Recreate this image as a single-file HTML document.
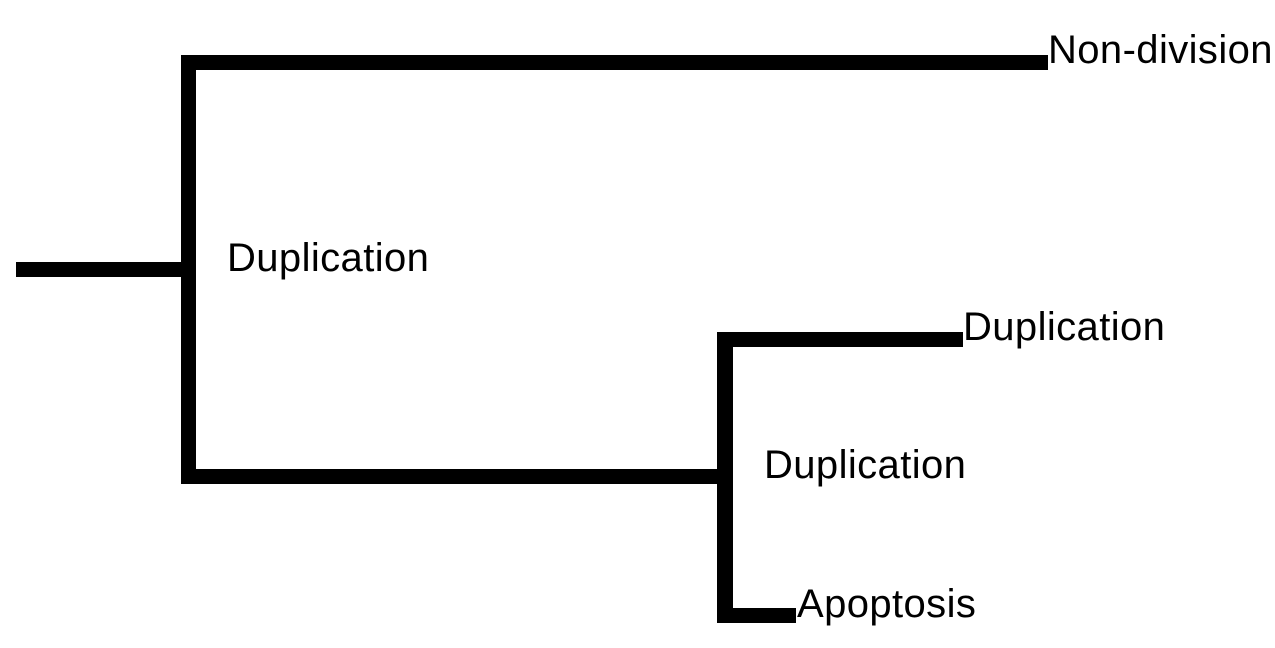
<!DOCTYPE html>
<html><head><style>
html,body{margin:0;padding:0;background:#fff;width:1275px;height:648px;overflow:hidden;}
svg text{font-family:"Liberation Sans",Arial,sans-serif;font-size:40px;letter-spacing:0.4px;fill:#000;}
</style></head><body>
<svg width="1275" height="648" xmlns="http://www.w3.org/2000/svg">
<g fill="#000">
<rect x="16" y="262" width="170" height="15"/>
<rect x="181" y="55" width="15" height="429"/>
<rect x="181" y="55" width="867" height="15"/>
<rect x="181" y="469" width="552" height="15"/>
<rect x="717" y="332" width="16" height="291"/>
<rect x="717" y="332" width="246" height="15"/>
<rect x="717" y="608" width="79" height="15"/>
</g>
<text x="227" y="271">Duplication</text>
<text x="764" y="478">Duplication</text>
<text x="963" y="340">Duplication</text>
<text x="1048" y="63">Non-division</text>
<text x="797" y="617">Apoptosis</text>
</svg>
</body></html>
